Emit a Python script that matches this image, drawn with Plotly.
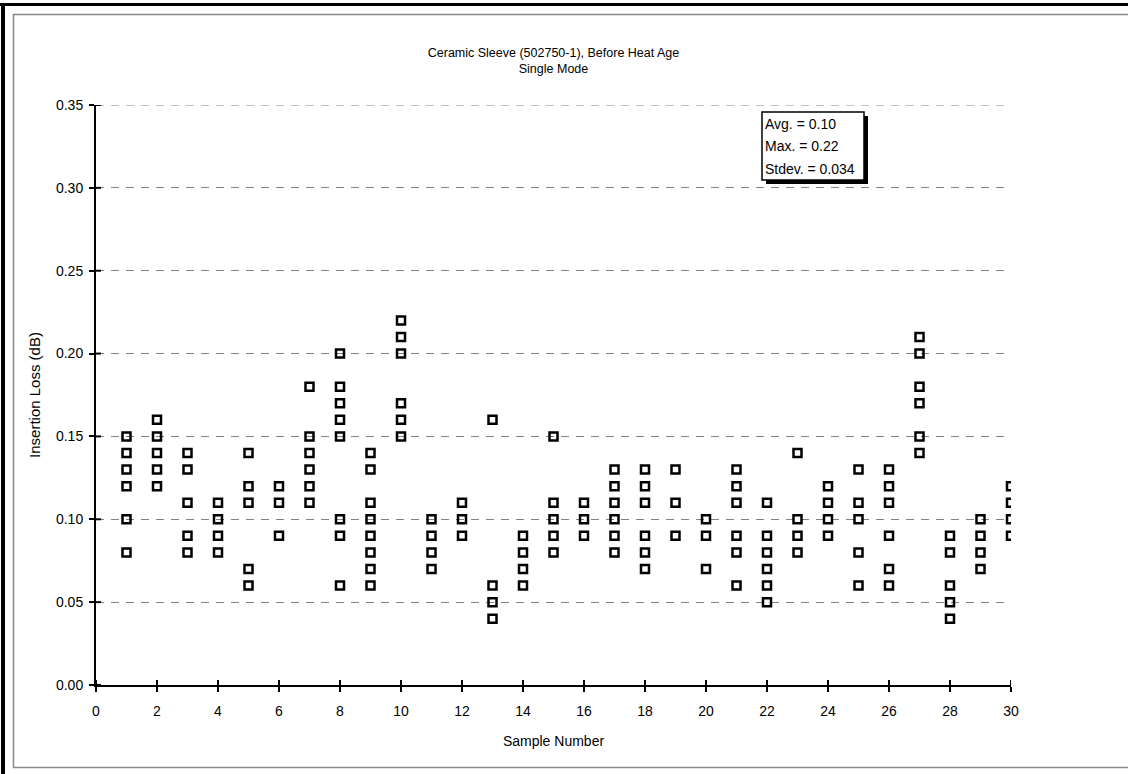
import plotly.graph_objects as go

samples = list(range(1, 31))
losses = [
    [0.15, 0.14, 0.13, 0.12, 0.10, 0.08],
    [0.16, 0.15, 0.14, 0.13, 0.12],
    [0.14, 0.13, 0.11, 0.09, 0.08],
    [0.11, 0.10, 0.09, 0.08],
    [0.14, 0.12, 0.11, 0.07, 0.06],
    [0.12, 0.11, 0.09],
    [0.18, 0.15, 0.14, 0.13, 0.12, 0.11],
    [0.20, 0.18, 0.17, 0.16, 0.15, 0.10, 0.09, 0.06],
    [0.14, 0.13, 0.11, 0.10, 0.09, 0.08, 0.07, 0.06],
    [0.22, 0.21, 0.20, 0.17, 0.16, 0.15],
    [0.10, 0.09, 0.08, 0.07],
    [0.11, 0.10, 0.09],
    [0.16, 0.06, 0.05, 0.04],
    [0.09, 0.08, 0.07, 0.06],
    [0.15, 0.11, 0.10, 0.09, 0.08],
    [0.11, 0.10, 0.09],
    [0.13, 0.12, 0.11, 0.10, 0.09, 0.08],
    [0.13, 0.12, 0.11, 0.09, 0.08, 0.07],
    [0.13, 0.11, 0.09],
    [0.10, 0.09, 0.07],
    [0.13, 0.12, 0.11, 0.09, 0.08, 0.06],
    [0.11, 0.09, 0.08, 0.07, 0.06, 0.05],
    [0.14, 0.10, 0.09, 0.08],
    [0.12, 0.11, 0.10, 0.09],
    [0.13, 0.11, 0.10, 0.08, 0.06],
    [0.13, 0.12, 0.11, 0.09, 0.07, 0.06],
    [0.21, 0.20, 0.18, 0.17, 0.15, 0.14],
    [0.09, 0.08, 0.06, 0.05, 0.04],
    [0.10, 0.09, 0.08, 0.07],
    [0.12, 0.11, 0.10, 0.09],
]
x_ticks = list(range(0, 31, 2))
y_ticks = [0.00, 0.05, 0.10, 0.15, 0.20, 0.25, 0.30, 0.35]
stats_lines = ["Avg. = 0.10", "Max. = 0.22", "Stdev. = 0.034"]
title_text = "Ceramic Sleeve (502750-1), Before Heat Age<br>Single Mode"

xs, ys = [], []
for s, vals in zip(samples, losses):
    for v in vals:
        xs.append(s)
        ys.append(v)

W, H = 1128, 774
L, R, T, B = 96, 117, 105, 89
PW, PH = W - L - R, H - T - B

def px(x):
    return (x - L) / PW

def py(y):
    return (H - B - y) / PH

FONT = "Liberation Sans, Arial, sans-serif"
DASH = "8px,7px"

fig = go.Figure()
fig.add_trace(go.Scatter(
    x=xs, y=ys, mode="markers",
    marker=dict(symbol="square-open", size=8, color="black",
                line=dict(width=2.5, color="black")),
    showlegend=False, hoverinfo="x+y",
))

shapes = []
# page frame: gray inner rectangle (right edge pushed off-page) and black outer L
shapes.append(dict(type="rect", xref="paper", yref="paper", x0=px(13.5), x1=px(W + 20),
                   y0=py(767.5), y1=py(14.5), line=dict(color="#888888", width=1.5), layer="below"))
shapes.append(dict(type="line", xref="paper", yref="paper", x0=px(0), x1=px(W + 10), y0=py(4.5), y1=py(4.5),
                   line=dict(color="black", width=3)))
shapes.append(dict(type="line", xref="paper", yref="paper", x0=px(3), x1=px(3), y0=py(3), y1=py(H + 10),
                   line=dict(color="black", width=4)))
# top gridline (at range edge)
shapes.append(dict(type="line", xref="paper", yref="y", x0=0, x1=1, y0=y_ticks[-1], y1=y_ticks[-1],
                   line=dict(color="#808080", width=1, dash=DASH), layer="below"))
# inner tick halves (crossing ticks)
for t in x_ticks:
    shapes.append(dict(type="line", xref="x", yref="paper", x0=t, x1=t, y0=0, y1=5 / PH,
                       line=dict(color="black", width=2)))
for t in y_ticks:
    shapes.append(dict(type="line", xref="paper", yref="y", x0=0, x1=5 / PW, y0=t, y1=t,
                       line=dict(color="black", width=2)))
# stats box with shadow
bx0, bx1, by0, by1 = 762, 864, 112, 180
shapes.append(dict(type="rect", xref="paper", yref="paper", x0=px(bx0 + 4), x1=px(bx1 + 4),
                   y0=py(by1 + 4), y1=py(by0 + 4), fillcolor="black", line=dict(width=0), layer="above"))
shapes.append(dict(type="rect", xref="paper", yref="paper", x0=px(bx0), x1=px(bx1),
                   y0=py(by1), y1=py(by0), fillcolor="white", line=dict(color="black", width=1.5), layer="above"))

annotations = []
for i, line in enumerate(stats_lines):
    annotations.append(dict(xref="paper", yref="paper", x=px(bx0 + 1), y=py(124 + i * 22.5),
                            xanchor="left", yanchor="middle", text=line, showarrow=False,
                            font=dict(family=FONT, size=14, color="black")))

fig.update_layout(
    width=W, height=H,
    margin=dict(l=L, r=R, t=T, b=B),
    paper_bgcolor="white", plot_bgcolor="white",
    title=dict(text=title_text, x=(L + PW / 2) / W, xanchor="center", y=1 - 57 / H, yanchor="middle",
               font=dict(family=FONT, size=12.5, color="black")),
    font=dict(family=FONT, size=14, color="black"),
    shapes=shapes, annotations=annotations,
    xaxis=dict(range=[0, 30], tickvals=x_ticks, ticktext=[str(t) for t in x_ticks],
               showline=True, linecolor="black", linewidth=2, ticks="outside", ticklen=5,
               tickwidth=2, tickcolor="black", showgrid=False, zeroline=False, ticklabelstandoff=7,
               title=dict(text="Sample Number", font=dict(family=FONT, size=14), standoff=18),
               tickfont=dict(family=FONT, size=14)),
    yaxis=dict(range=[0, 0.35], tickvals=y_ticks, ticktext=[f"{t:.2f}" for t in y_ticks],
               showline=True, linecolor="black", linewidth=2, ticks="outside", ticklen=5,
               tickwidth=2, tickcolor="black", showgrid=True, gridcolor="#808080", griddash=DASH,
               gridwidth=1, zeroline=False, ticklabelstandoff=3,
               title=dict(text="Insertion Loss (dB)", font=dict(family=FONT, size=15), standoff=12),
               tickfont=dict(family=FONT, size=14)),
)

fig.write_html("out.html")
